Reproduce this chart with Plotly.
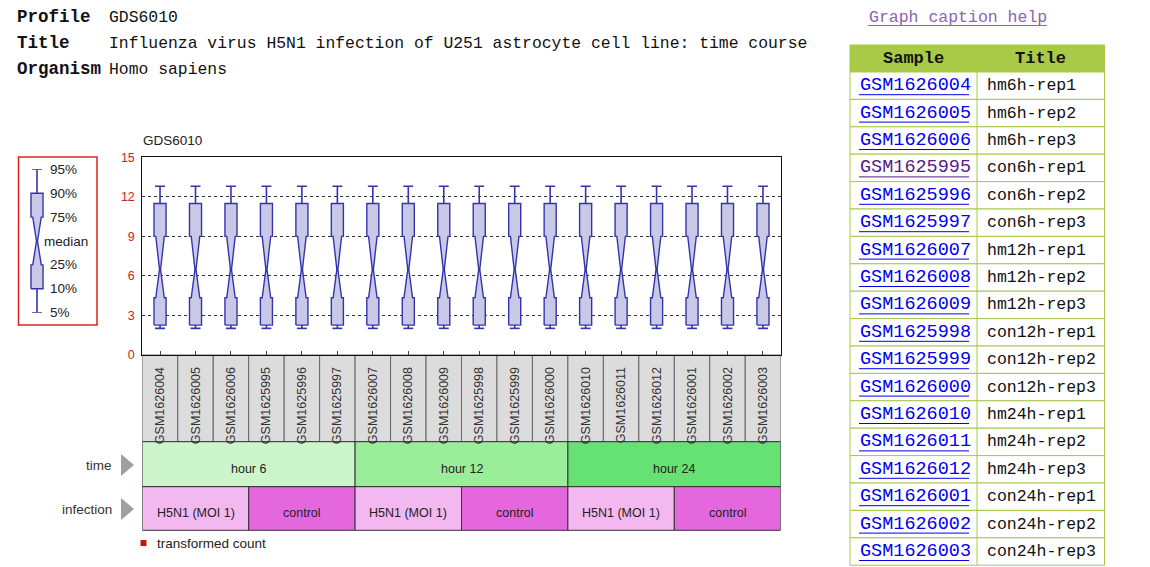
import plotly.graph_objects as go

# ---------------- data ----------------
samples = ["GSM1626004", "GSM1626005", "GSM1626006", "GSM1625995", "GSM1625996", "GSM1625997",
           "GSM1626007", "GSM1626008", "GSM1626009", "GSM1625998", "GSM1625999", "GSM1626000",
           "GSM1626010", "GSM1626011", "GSM1626012", "GSM1626001", "GSM1626002", "GSM1626003"]
titles = ["hm6h-rep1", "hm6h-rep2", "hm6h-rep3", "con6h-rep1", "con6h-rep2", "con6h-rep3",
          "hm12h-rep1", "hm12h-rep2", "hm12h-rep3", "con12h-rep1", "con12h-rep2", "con12h-rep3",
          "hm24h-rep1", "hm24h-rep2", "hm24h-rep3", "con24h-rep1", "con24h-rep2", "con24h-rep3"]
visited = ["GSM1625995"]
time_group = ["hour 6"] * 6 + ["hour 12"] * 6 + ["hour 24"] * 6
infection_group = (["H5N1 (MOI 1)"] * 3 + ["control"] * 3) * 3

p5 = [2.02, 2.02, 2.02, 2.02, 2.02, 2.02, 2.02, 2.02, 2.02, 2.02, 2.02, 2.02, 2.02, 2.02, 2.02, 2.02, 2.02, 2.02]
p10 = [2.27, 2.27, 2.27, 2.27, 2.27, 2.27, 2.27, 2.27, 2.27, 2.27, 2.27, 2.27, 2.27, 2.27, 2.27, 2.27, 2.27, 2.27]
p25 = [4.34, 4.34, 4.34, 4.34, 4.34, 4.34, 4.34, 4.34, 4.34, 4.34, 4.34, 4.34, 4.34, 4.34, 4.34, 4.34, 4.34, 4.34]
p50 = [6.49, 6.49, 6.49, 6.49, 6.49, 6.49, 6.49, 6.49, 6.49, 6.49, 6.49, 6.49, 6.49, 6.49, 6.49, 6.49, 6.49, 6.49]
p75 = [9.0, 9.0, 9.0, 9.0, 9.0, 9.0, 9.0, 9.0, 9.0, 9.0, 9.0, 9.0, 9.0, 9.0, 9.0, 9.0, 9.0, 9.0]
p90 = [11.49, 11.49, 11.49, 11.49, 11.49, 11.49, 11.49, 11.49, 11.49, 11.49, 11.49, 11.49, 11.49, 11.49, 11.49, 11.49, 11.49, 11.49]
p95 = [12.8, 12.8, 12.8, 12.8, 12.8, 12.8, 12.8, 12.8, 12.8, 12.8, 12.8, 12.8, 12.8, 12.8, 12.8, 12.8, 12.8, 12.8]

y_ticks = [0, 3, 6, 9, 12, 15]
legend_labels = ["5%", "10%", "25%", "median", "75%", "90%", "95%"]
legend_levels = [0, 1, 2, 3, 4, 5, 6]

time_colors = {"hour 6": "#ccf5cc", "hour 12": "#9aee9a", "hour 24": "#66e275"}
infection_colors = {"H5N1 (MOI 1)": "#f4b8f0", "control": "#e467de"}

# ---------------- style ----------------
W, H = 1150, 567
SANS = "Liberation Sans, Arial, sans-serif"
MONO = "Liberation Mono, DejaVu Sans Mono, monospace"
BOX_LINE = "#3434ac"
BOX_FILL = "#c9c9e7"
HW, HW2, HW0, CAP = 0.17, 0.12, 0.015, 0.14


def px(x):
    return x / W


def py(y):
    return (H - y) / H


def box_geometry(c, a5, a10, a25, a50, a75, a90, a95):
    bx = [c - HW, c + HW, c + HW, c + HW2, c + HW0, c + HW2, c + HW, c + HW, c - HW,
          c - HW, c - HW2, c - HW0, c - HW2, c - HW, c - HW]
    by = [a10, a10, a25, a25, a50, a75, a75, a90, a90, a75, a75, a50, a25, a25, a10]
    wx = [c, c, None, c - CAP, c + CAP, None, c, c, None, c - CAP, c + CAP, None]
    wy = [a90, a95, None, a95, a95, None, a10, a5, None, a5, a5, None]
    return bx, by, wx, wy


fig = go.Figure()

# main boxes
BX, BY, WX, WY = [], [], [], []
for i in range(len(samples)):
    bx, by, wx, wy = box_geometry(i, p5[i], p10[i], p25[i], p50[i], p75[i], p90[i], p95[i])
    BX += bx + [None]
    BY += by + [None]
    WX += wx
    WY += wy
fig.add_trace(go.Scatter(x=WX, y=WY, mode="lines", line=dict(color=BOX_LINE, width=1.6),
                         hoverinfo="skip", showlegend=False))
fig.add_trace(go.Scatter(x=BX, y=BY, mode="lines", fill="toself", fillcolor=BOX_FILL,
                         line=dict(color=BOX_LINE, width=1.4), hoverinfo="skip", showlegend=False))

# legend schematic (on its own small axis)
bx, by, wx, wy = box_geometry(0, *legend_levels)
fig.add_trace(go.Scatter(x=wx, y=wy, mode="lines", line=dict(color=BOX_LINE, width=1.6),
                         xaxis="x2", yaxis="y2", hoverinfo="skip", showlegend=False))
fig.add_trace(go.Scatter(x=bx, y=by, mode="lines", fill="toself", fillcolor=BOX_FILL,
                         line=dict(color=BOX_LINE, width=1.4), xaxis="x2", yaxis="y2",
                         hoverinfo="skip", showlegend=False))

# ---------------- layout ----------------
x_dom = [px(142.3), px(780.7)]
y_dom = [py(355), py(157.3)]
n = len(samples)

fig.update_layout(
    template="none",
    width=W, height=H, margin=dict(l=0, r=0, t=0, b=0, pad=0, autoexpand=False),
    paper_bgcolor="white", plot_bgcolor="white", showlegend=False,
    xaxis=dict(domain=x_dom, range=[-0.5, n - 0.5], tickmode="array", automargin=False,
               tickvals=list(range(n)), ticktext=samples, tickangle=-90,
               tickfont=dict(family=SANS, size=12.5, color="#333"),
               ticks="inside", ticklen=4, tickcolor="#444", ticklabelstandoff=6,
               showline=True, linecolor="#111", linewidth=1, mirror=True,
               showgrid=False, zeroline=False, fixedrange=True),
    yaxis=dict(domain=y_dom, range=[0, 15], tickmode="array", tickvals=y_ticks, automargin=False,
               tickfont=dict(family=SANS, size=12.5, color="#cc2222"), ticks="",
               ticklabelstandoff=4,
               showline=True, linecolor="#111", linewidth=1, mirror=True,
               showgrid=True, gridcolor="#333", griddash="dot", gridwidth=1,
               zeroline=False, fixedrange=True),
    xaxis2=dict(domain=[px(37 - 17.7), px(37 + 17.7)], range=[-0.5, 0.5], visible=False,
                anchor="y2", fixedrange=True, automargin=False),
    yaxis2=dict(domain=[py(312.7), py(169.3)], range=[0, 6], visible=False,
                anchor="x2", fixedrange=True, automargin=False),
)

shapes = []
ann = []


def text(x, y, s, family=SANS, size=13.5, color="#222", xanchor="left", xref="paper", yref="paper"):
    ann.append(dict(x=x, y=y, xref=xref, yref=yref, text=s, xanchor=xanchor, yanchor="middle",
                    showarrow=False, font=dict(family=family, size=size, color=color)))


# sample label boxes
for i in range(n):
    shapes.append(dict(type="rect", xref="x", yref="paper", x0=i - 0.5, x1=i + 0.5,
                       y0=py(441.7), y1=py(355), fillcolor="#dcdcdc",
                       line=dict(color="#666", width=1), layer="below"))


def group_runs(groups):
    runs = []
    start = 0
    for i in range(1, len(groups) + 1):
        if i == len(groups) or groups[i] != groups[start]:
            runs.append((groups[start], start, i - 1))
            start = i
    return runs


for name, a, b in group_runs(time_group):
    shapes.append(dict(type="rect", xref="x", yref="paper", x0=a - 0.5, x1=b + 0.5,
                       y0=py(486.7), y1=py(441.7), fillcolor=time_colors[name],
                       line=dict(color="#333", width=1), layer="below"))
    text((a + b) / 2, py(469), name, size=12.5, xanchor="center", xref="x")
for name, a, b in group_runs(infection_group):
    shapes.append(dict(type="rect", xref="x", yref="paper", x0=a - 0.5, x1=b + 0.5,
                       y0=py(530.3), y1=py(486.7), fillcolor=infection_colors[name],
                       line=dict(color="#333", width=1), layer="below"))
    text((a + b) / 2, py(513), name, size=12.5, xanchor="center", xref="x")

# row labels with arrows
for label, yc in [("time", 465), ("infection", 509)]:
    text(px(114), py(yc), label, color="#333", xanchor="right")
    shapes.append(dict(type="path", xref="paper", yref="paper",
                       path=f"M {px(121)},{py(yc - 11)} L {px(134)},{py(yc)} L {px(121)},{py(yc + 11)} Z",
                       fillcolor="#a0a0a0", line=dict(width=0)))

# footnote
shapes.append(dict(type="rect", xref="paper", yref="paper", x0=px(140.5), x1=px(146.5),
                   y0=py(546), y1=py(540), fillcolor="#cc1111", line=dict(width=0)))
text(px(155), py(543), "transformed count")

# chart title
text(px(141), py(140), "GDS6010")

# legend frame + labels
shapes.append(dict(type="rect", xref="paper", yref="paper", x0=px(18.5), x1=px(97),
                   y0=py(325), y1=py(157), line=dict(color="#e02020", width=1.5)))
for lab, lv in zip(legend_labels, legend_levels):
    text(px(42 if lab == "median" else 48), lv, lab, yref="y2")

# header text
for lab, val, yc in [("Profile", "GDS6010", 17),
                     ("Title", "Influenza virus H5N1 infection of U251 astrocyte cell line: time course", 43),
                     ("Organism", "Homo sapiens", 69)]:
    text(px(15), py(yc), f"<b>{lab}</b>", family=MONO, size=17.5, color="#111")
    text(px(107), py(yc), val, family=MONO, size=16.4, color="#111")

# caption help link
text(px(867), py(17), "Graph caption help", family=MONO, size=16.5, color="#8a64b4")
shapes.append(dict(type="line", xref="paper", yref="paper", x0=px(868), x1=px(1047),
                   y0=py(25.5), y1=py(25.5), line=dict(color="#8a64b4", width=1)))

# sample table (drawn from the samples / titles lists)
TX0, TX1, TX2 = 850, 977, 1104.5
TOP, HEAD_H, ROW_H = 45, 27, 27.4
TABLE_LINE = "#a6c84a"
shapes.append(dict(type="rect", xref="paper", yref="paper", x0=px(TX0), x1=px(TX2),
                   y0=py(TOP + HEAD_H), y1=py(TOP), fillcolor="#a8ca46",
                   line=dict(color=TABLE_LINE, width=1)))
text(px((TX0 + TX1) / 2), py(TOP + HEAD_H / 2), "<b>Sample</b>", family=MONO, size=17,
     color="#111", xanchor="center")
text(px((TX1 + TX2) / 2), py(TOP + HEAD_H / 2), "<b>Title</b>", family=MONO, size=17,
     color="#111", xanchor="center")
for r, (s, t) in enumerate(zip(samples, titles)):
    y0 = TOP + HEAD_H + r * ROW_H
    y1 = y0 + ROW_H
    yc = (y0 + y1) / 2
    shapes.append(dict(type="rect", xref="paper", yref="paper", x0=px(TX0), x1=px(TX2),
                       y0=py(y1), y1=py(y0), fillcolor="white", line=dict(color=TABLE_LINE, width=1)))
    col = "#551a8b" if s in visited else "#0000ee"
    text(px(858), py(yc), s, family=MONO, size=18.5, color=col)
    shapes.append(dict(type="line", xref="paper", yref="paper", x0=px(859), x1=px(969),
                       y0=py(yc + 9), y1=py(yc + 9), line=dict(color=col, width=1)))
    text(px(985), py(yc), t, family=MONO, size=16.5, color="#111")
shapes.append(dict(type="line", xref="paper", yref="paper", x0=px(TX1), x1=px(TX1),
                   y0=py(TOP + HEAD_H + len(samples) * ROW_H), y1=py(TOP),
                   line=dict(color=TABLE_LINE, width=1)))

fig.update_layout(shapes=shapes, annotations=ann)
fig.write_html("out.html")
